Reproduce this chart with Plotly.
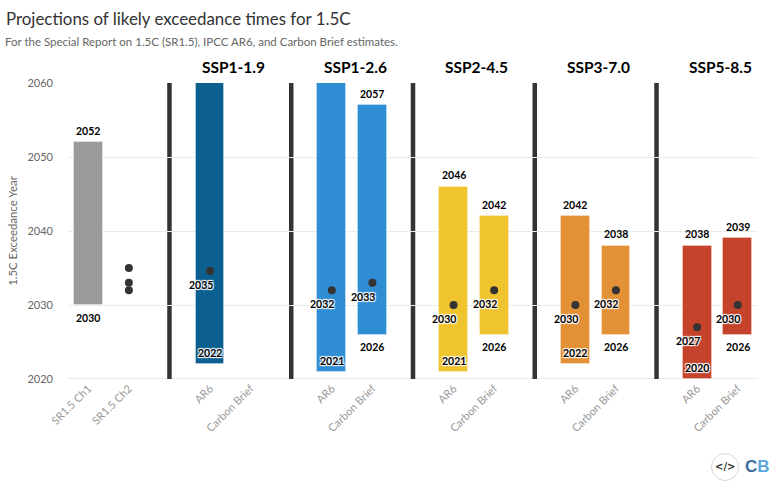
import plotly.graph_objects as go

W, H = 780, 495
ML, MR, MT, MB = 68, 22, 83, 116
FONT = "Lato"

slot_labels = ["SR1.5 Ch1", "SR1.5 Ch2", "", "AR6", "Carbon Brief", "", "AR6", "Carbon Brief", "",
               "AR6", "Carbon Brief", "", "AR6", "Carbon Brief", "", "AR6", "Carbon Brief"]
year_ticks = [2020, 2030, 2040, 2050, 2060]

bar_slots = [0, 3, 6, 7, 9, 10, 12, 13, 15, 16]
bar_low = [2030, 2022, 2021, 2026, 2021, 2026, 2022, 2026, 2020, 2026]
bar_high = [2052, 2060, 2060, 2057, 2046, 2042, 2042, 2038, 2038, 2039]
bar_colors = ["#9b9b9b", "#0b608f", "#2f8dd3", "#2f8dd3", "#f0c42e", "#f0c42e",
              "#e29136", "#e29136", "#c5432a", "#c5432a"]

point_slots = [1, 1, 1, 3, 6, 7, 9, 10, 12, 13, 15, 16]
point_years = [2032, 2033, 2035, 2034.6, 2032, 2033, 2030, 2032, 2030, 2032, 2027, 2030]

high_labels = [(0, 2052), (7, 2057), (9, 2046), (10, 2042), (12, 2042), (13, 2038), (15, 2038), (16, 2039)]
low_labels = [(0, 2030), (7, 2026), (10, 2026), (13, 2026), (16, 2026)]
base_labels = [(3, 2022), (6, 2021), (9, 2021), (12, 2022), (15, 2020)]
mid_labels = [(3, 2034.6, "2035"), (6, 2032, "2032"), (7, 2033, "2033"), (9, 2030, "2030"), (10, 2032, "2032"),
              (12, 2030, "2030"), (13, 2032, "2032"), (15, 2027, "2027"), (16, 2030, "2030")]

separator_slots = [2, 5, 8, 11, 14]
group_names = ["SSP1-1.9", "SSP1-2.6", "SSP2-4.5", "SSP3-7.0", "SSP5-8.5"]
group_centres = [3.5, 6.5, 9.5, 12.5, 15.5]

fig = go.Figure()
fig.add_trace(go.Bar(
    x=bar_slots, y=[h - l for h, l in zip(bar_high, bar_low)], base=bar_low, width=0.71,
    marker=dict(color=bar_colors, line=dict(color="rgba(255,255,255,0.3)", width=1)),
    hoverinfo="skip", showlegend=False))
fig.add_trace(go.Scatter(
    x=point_slots, y=point_years, mode="markers",
    marker=dict(color="#333333", size=8), showlegend=False, hoverinfo="skip"))

HALO = "1px 1px 1px #fff, -1px -1px 1px #fff, 1px -1px 1px #fff, -1px 1px 1px #fff"


def label(x, y, text, xs=0, ys=0, halo=True):
    fig.add_annotation(x=x, y=y, text=f"<b>{text}</b>", showarrow=False, xshift=xs, yshift=ys,
                       font=dict(family=FONT, size=10.5, color="#000000", shadow=HALO if halo else "none"))


for s, y in high_labels:
    label(s, y, str(y), ys=11.5, halo=False)
for s, y in low_labels:
    label(s, y, str(y), ys=-12.5, halo=False)
for s, y in base_labels:
    label(s, y, str(y), xs=0, ys=11)
for s, y, t in mid_labels:
    label(s, y, t, xs=-9.5, ys=-14)

for name, c in zip(group_names, group_centres):
    fig.add_annotation(x=c, y=2060, yshift=16, xshift=3, text=f"<b>{name}</b>", showarrow=False,
                       font=dict(family=FONT, size=15.5, color="#000000"))

shapes = [dict(type="line", layer="below", xref="x", yref="y", x0=s, x1=s, y0=2020, y1=2060,
               line=dict(color="#333333", width=4.5)) for s in separator_slots]

pw, ph = W - ML - MR, H - MT - MB


def paper_x(x):
    return (x - ML) / pw


def paper_y(y):
    return (H - MB - y) / ph


shapes.append(dict(type="circle", xref="paper", yref="paper",
                   x0=paper_x(711.5), x1=paper_x(738.5), y0=paper_y(480.5), y1=paper_y(453.5),
                   line=dict(color="#ddd6d6", width=1), fillcolor="#ffffff"))
fig.add_annotation(xref="paper", yref="paper", x=paper_x(725), y=paper_y(466.5), showarrow=False,
                   xanchor="center", yanchor="middle",
                   text="<b>&lt;/&gt;</b>", font=dict(family="DejaVu Sans", size=10, color="#333333"))
fig.add_annotation(xref="paper", yref="paper", x=paper_x(757), y=paper_y(466.5), showarrow=False,
                   xanchor="center", yanchor="middle",
                   text="<b><span style='color:#3a6d9c'>C</span><span style='color:#5ba7df'>B</span></b>",
                   font=dict(family="Liberation Sans Narrow, Liberation Sans", size=17))
fig.add_annotation(xref="paper", yref="paper", x=paper_x(3), y=paper_y(42), xanchor="left", yanchor="middle",
                   showarrow=False,
                   text="For the Special Report on 1.5C (SR1.5), IPCC AR6, and Carbon Brief estimates.",
                   font=dict(family=FONT, size=11.5, color="#666666"))

fig.update_layout(
    width=W, height=H, autosize=False, bargap=0, plot_bgcolor="#ffffff", paper_bgcolor="#ffffff",
    margin=dict(l=ML, r=MR, t=MT, b=MB), shapes=shapes, showlegend=False,
    font=dict(family=FONT, color="#666666"),
    title=dict(text="Projections of likely exceedance times for 1.5C", x=6 / W, xanchor="left",
               y=1 - 19 / H, yanchor="middle", font=dict(family=FONT, size=16.9, color="#333333")),
    xaxis=dict(range=[-0.5, 16.5], tickmode="array", tickvals=list(range(len(slot_labels))), ticktext=slot_labels,
               tickangle=-45, showgrid=False, zeroline=False, showline=False, ticks="",
               tickfont=dict(family=FONT, size=11, color="#999999")),
    yaxis=dict(range=[2020, 2060], tickmode="array", tickvals=year_ticks, showgrid=True, gridcolor="#ececec",
               gridwidth=1, zeroline=False, showline=False, ticks="", ticklabelstandoff=14,
               tickfont=dict(family=FONT, size=11, color="#666666"), automargin=False,
               title=dict(text="1.5C Exceedance Year", standoff=7, font=dict(family=FONT, size=11.4, color="#666666"))),
)
fig.add_shape(type="line", xref="paper", yref="y", x0=0, x1=1, y0=2020, y1=2020, layer="below",
              line=dict(color="#ccd6eb", width=1))
fig.write_html("out.html", post_script="document.body.style.margin='0';",
               config={"displayModeBar": False})
